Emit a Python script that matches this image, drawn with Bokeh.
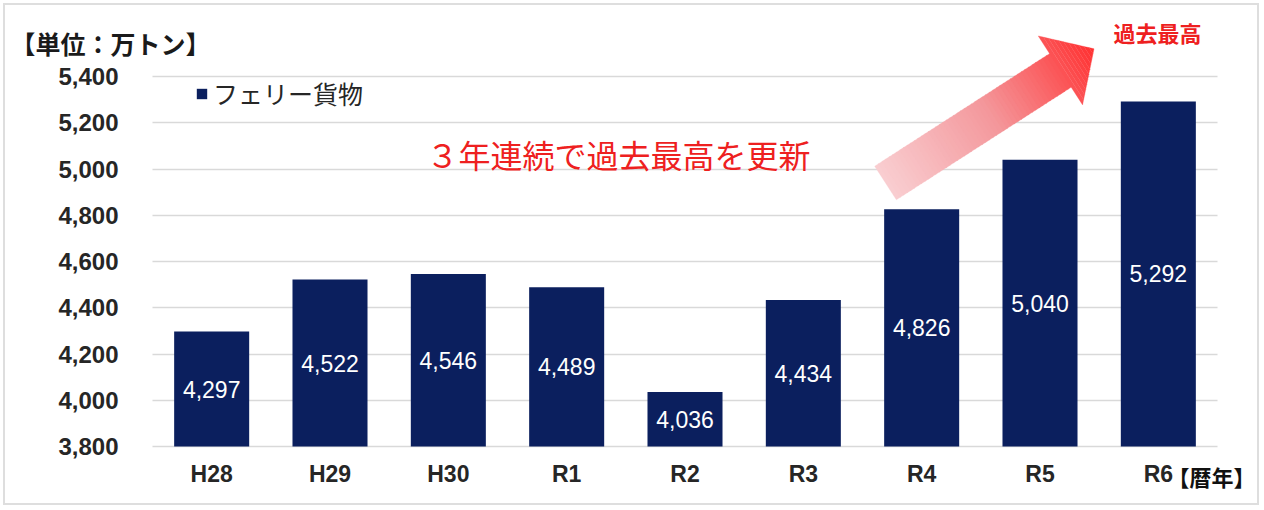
import math
import numpy as np
from bokeh.plotting import figure
from bokeh.models import (ColumnDataSource, Label, Legend, LegendItem, Grid,
                          LinearAxis, Range1d, FixedTicker, NumeralTickFormatter)
from bokeh.core.properties import value
from bokeh.embed import file_html
from bokeh.resources import INLINE

# ---------------- data ----------------
years = ["H28", "H29", "H30", "R1", "R2", "R3", "R4", "R5", "R6"]
ferry = [4297, 4522, 4546, 4489, 4036, 4434, 4826, 5040, 5292]
y_ticks = [3800, 4000, 4200, 4400, 4600, 4800, 5000, 5200, 5400]
series_name = "フェリー貨物"
unit_label = "【単位：万トン】"
xaxis_label = "【暦年】"
headline = "３年連続で過去最高を更新"
arrow_label = "過去最高"

# ---------------- layout ----------------
OFF = 5                       # element offset inside the page
W, H = 1252, 498              # canvas == frame
PLOT_L, PLOT_B = 152, 446     # page px of the plotting area's left / baseline
PPX = 1065 / len(years)       # px per category
PPY = 0.23125                 # px per data unit
Y0 = y_ticks[0]
X_START = -(PLOT_L - OFF) / PPX
X_END = (OFF + W - PLOT_L) / PPX
Y_START = Y0 - (OFF + H - PLOT_B) / PPY
Y_END = Y0 + (PLOT_B - OFF) / PPY
NAVY = "#0b1f5e"
RED = "#ee2020"
NUM = "'Liberation Sans', Arial, sans-serif"
JP = "'Noto Sans CJK JP', sans-serif"

p = figure(x_range=Range1d(X_START, X_END), y_range=Range1d(Y_START, Y_END),
           width=W, height=H, output_backend="svg", toolbar_location=None,
           x_axis_type=None, y_axis_type=None,
           min_border=0, min_border_left=0, min_border_right=0,
           min_border_top=0, min_border_bottom=0)
p.styles = {"margin-left": f"{OFF}px", "margin-top": f"{OFF}px",
            "outline": "2px solid #dedede"}
p.outline_line_color = None
p.background_fill_color = "white"
p.border_fill_color = "white"

def dx(px):
    return (px - PLOT_L) / PPX
def dy(py):
    return Y0 + (PLOT_B - py) / PPY

# ---------------- grid ----------------
grid = Grid(dimension=1, ticker=FixedTicker(ticks=y_ticks),
            grid_line_color="#d9d9d9", grid_line_width=1.5)
try:
    grid.cross_bounds = (0, len(years))
    p.add_layout(grid)
except Exception:
    p.segment(x0=0, x1=len(years), y0=y_ticks, y1=y_ticks,
              line_color="#d9d9d9", line_width=1.5, level="underlay")

# ---------------- bars ----------------
x_pos = [i + 0.5 for i in range(len(years))]
src = ColumnDataSource(dict(
    x=x_pos, year=years, ferry=ferry,
    mid=[(Y0 + v) / 2 for v in ferry],
    lbl=[f"{v:,}" for v in ferry],
))
bars = p.vbar(x="x", top="ferry", bottom=Y0, width=0.634, source=src,
              fill_color=NAVY, line_color=None)
p.text(x="x", y="mid", text="lbl", source=src, text_color="white",
       text_font=value(NUM), text_font_size="23px",
       text_align="center", text_baseline="middle")

# ---------------- axes (fixed inside the full-canvas frame) ----------------
yax = LinearAxis(fixed_location=0, ticker=FixedTicker(ticks=y_ticks),
                 formatter=NumeralTickFormatter(format="0,0"))
xax = LinearAxis(fixed_location=Y0, ticker=FixedTicker(ticks=x_pos),
                 major_label_overrides={xp: yr for xp, yr in zip(x_pos, years)})
for ax in (xax, yax):
    ax.axis_line_color = None
    ax.major_tick_line_color = None
    ax.minor_tick_line_color = None
    ax.major_tick_out = 0
    ax.major_tick_in = 0
    ax.major_label_text_font = NUM
    ax.major_label_text_font_style = "bold"
    ax.major_label_text_color = "#262626"
yax.major_label_text_font_size = "24px"
xax.major_label_text_font_size = "23px"
yax.major_label_standoff = 34
xax.major_label_standoff = 14
p.add_layout(yax, "left")
p.add_layout(xax, "below")

# ---------------- gradient arrow ----------------
T = (885.0, 182.5)
ang = math.atan2(-112.0, 174.0)
u = (math.cos(ang), math.sin(ang))
n = (-u[1], u[0])
LB, LT, HW_S, HW_H = 208.0, 248.0, 20.0, 41.0

def pt(s, w):
    return (T[0] + u[0] * s + n[0] * w, T[1] + u[1] * s + n[1] * w)

stops = [(0.0, (249, 206, 209)), (0.5, (244, 152, 156)),
         (0.82, (251, 88, 90)), (1.0, (255, 48, 48))]
def col(t):
    for (t0, c0), (t1, c1) in zip(stops[:-1], stops[1:]):
        if t <= t1:
            f = (t - t0) / (t1 - t0)
            c = [round(a + (b - a) * f) for a, b in zip(c0, c1)]
            return "#%02x%02x%02x" % tuple(c)
    return "#%02x%02x%02x" % stops[-1][1]

axs, ays, acs = [], [], []
sh = np.linspace(0, LB, 50)
for a, b in zip(sh[:-1], sh[1:]):
    b2 = b + 0.8
    quad = [pt(a, HW_S), pt(b2, HW_S), pt(b2, -HW_S), pt(a, -HW_S)]
    axs.append([dx(q[0]) for q in quad]); ays.append([dy(q[1]) for q in quad])
    acs.append(col((a + b) / 2 / LT))
hd = np.linspace(LB, LT, 12)
def hw_head(s):
    return HW_H * (LT - s) / (LT - LB)
for a, b in zip(hd[:-1], hd[1:]):
    quad = [pt(a, hw_head(a)), pt(b, hw_head(b)), pt(b, -hw_head(b)), pt(a, -hw_head(a))]
    axs.append([dx(q[0]) for q in quad]); ays.append([dy(q[1]) for q in quad])
    acs.append(col((a + b) / 2 / LT))
p.patches(xs="xs", ys="ys", fill_color="c", line_color="c", line_width=0.3,
          source=ColumnDataSource(dict(xs=axs, ys=ays, c=acs)))

# ---------------- legend ----------------
legend = Legend(items=[LegendItem(label=series_name, renderers=[bars])],
                location=(190, 392), padding=0, margin=0,
                border_line_color=None, background_fill_alpha=0,
                glyph_width=13, glyph_height=13, label_standoff=5,
                label_height=26, label_text_font=JP,
                label_text_font_size="25px", label_text_color="#262626")
p.add_layout(legend)

# ---------------- text annotations ----------------
p.add_layout(Label(x=dx(10), y=dy(42), text=unit_label, text_font=JP,
                   text_font_size="25px", text_font_style="bold",
                   text_color="#1a1a1a", text_baseline="middle"))
p.add_layout(Label(x=dx(618), y=dy(153), text=headline, text_font=JP,
                   text_font_size="32px", text_color=RED,
                   text_align="center", text_baseline="middle"))
p.add_layout(Label(x=dx(1157), y=dy(31), text=arrow_label, text_font=JP,
                   text_font_size="22px", text_font_style="bold",
                   text_color=RED, text_align="center", text_baseline="middle"))
p.add_layout(Label(x=dx(1167), y=dy(475), text=xaxis_label, text_font=JP,
                   text_font_size="22px", text_font_style="bold",
                   text_color="#111111", text_baseline="middle"))

open("out.html", "w").write(file_html(p, INLINE))
